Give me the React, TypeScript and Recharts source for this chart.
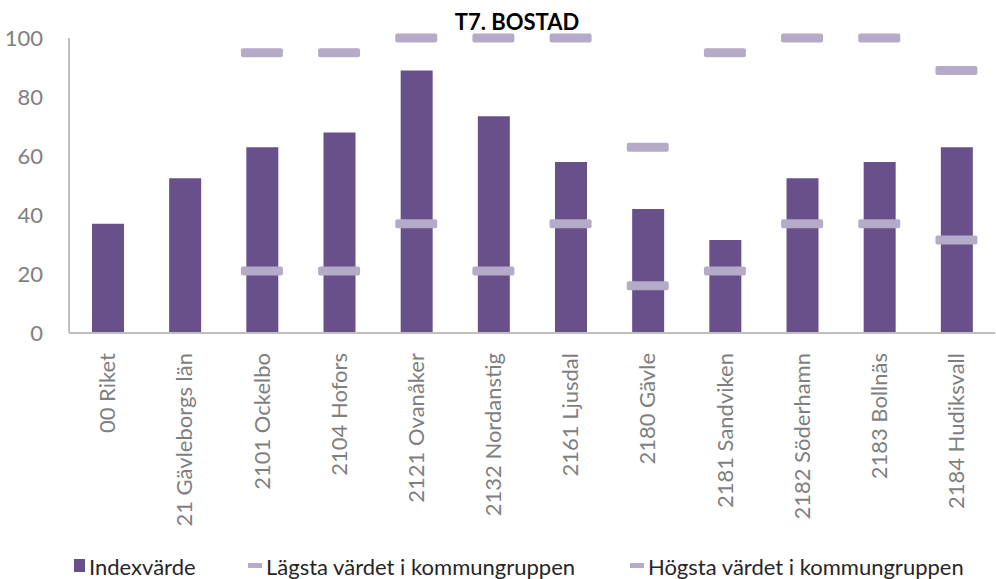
import { ComposedChart, Bar, Scatter, XAxis, YAxis } from 'recharts';

const categories = [
  '00 Riket',
  '21 Gävleborgs län',
  '2101 Ockelbo',
  '2104 Hofors',
  '2121 Ovanåker',
  '2132 Nordanstig',
  '2161 Ljusdal',
  '2180 Gävle',
  '2181 Sandviken',
  '2182 Söderhamn',
  '2183 Bollnäs',
  '2184 Hudiksvall',
];
const indexValues = [37, 52.5, 63, 68, 89, 73.5, 58, 42, 31.5, 52.5, 58, 63];
const lowValues = [null, null, 21, 21, 37, 21, 37, 16, 21, 37, 37, 31.5];
const highValues = [null, null, 95, 95, 100, 100, 100, 63, 95, 100, 100, 89];
const yTicks = [0, 20, 40, 60, 80, 100];

const data = categories.map((name, i) => ({
  name,
  index: indexValues[i],
  low: lowValues[i],
  high: highValues[i],
}));

const BAR_COLOR = '#68518a';
const MARK_COLOR = '#b5aac8';
const FONT = 'Lato, "Open Sans", sans-serif';

function Dash(props: any) {
  const { cx, cy } = props;
  if (cx == null || cy == null || Number.isNaN(cy)) return null;
  return <rect x={cx - 21} y={cy - 4.5} width={42} height={9} rx={2} fill={MARK_COLOR} />;
}

function XTick({ x, y, payload }: any) {
  return (
    <text
      transform={`translate(${x},${y + 12}) rotate(-90)`}
      textAnchor="end"
      dy="0.35em"
      fontSize={22}
      fill="#7f7f7f"
      fontFamily={FONT}
    >
      {payload.value}
    </text>
  );
}

export default function App() {
  if (typeof document !== 'undefined') document.body.style.margin = '0';
  return (
    <div style={{ position: 'relative', width: 996, height: 579, background: '#fff', fontFamily: FONT }}>
      <ComposedChart
        width={996}
        height={579}
        data={data}
        margin={{ top: 38, right: 1, bottom: 44, left: 0 }}
      >
        <XAxis
          dataKey="name"
          tick={<XTick />}
          tickLine={false}
          axisLine={{ stroke: '#bfbfbf', strokeWidth: 2 }}
          interval={0}
          height={202}
        />
        <YAxis
          domain={[0, 100]}
          ticks={yTicks}
          width={69}
          tickLine={false}
          axisLine={{ stroke: '#bfbfbf', strokeWidth: 2 }}
          tick={{ fill: '#7f7f7f', fontSize: 22, fontFamily: FONT }}
          tickMargin={20}
        />
        <Bar dataKey="index" fill={BAR_COLOR} barSize={32} isAnimationActive={false} />
        <Scatter dataKey="low" shape={<Dash />} isAnimationActive={false} />
        <Scatter dataKey="high" shape={<Dash />} isAnimationActive={false} />
        <text x={517} y={30} textAnchor="middle" fontSize={22} fontWeight="bold" fill="#000" fontFamily={FONT}>
          T7. BOSTAD
        </text>
      </ComposedChart>
      <div style={{ position: 'absolute', top: 553, left: 0, width: 996, height: 26, fontSize: 22, color: '#262626' }}>
        <div style={{ position: 'absolute', left: 74, top: 6, width: 11, height: 13, background: BAR_COLOR }} />
        <div style={{ position: 'absolute', left: 89, top: 0 }}>Indexvärde</div>
        <div style={{ position: 'absolute', left: 248, top: 10, width: 14, height: 5, background: MARK_COLOR }} />
        <div style={{ position: 'absolute', left: 266, top: 0 }}>Lägsta värdet i kommungruppen</div>
        <div style={{ position: 'absolute', left: 630, top: 10, width: 14, height: 5, background: MARK_COLOR }} />
        <div style={{ position: 'absolute', left: 648, top: 0 }}>Högsta värdet i kommungruppen</div>
      </div>
    </div>
  );
}
